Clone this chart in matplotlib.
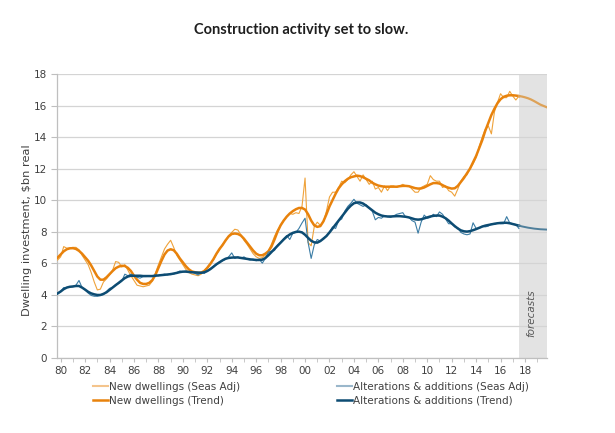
import numpy as np
import matplotlib
matplotlib.use("Agg")
import matplotlib.pyplot as plt
from matplotlib.lines import Line2D
from matplotlib.ticker import MultipleLocator, FixedLocator, FuncFormatter

# ---------------- data (quarterly, first quarter = 1979.75) ----------------
start_year = 1979.75
forecast_start = 2017.5

new_dw_sa = [
    6.2,
    6.4, 7.05, 6.95, 6.95,   7.0, 7.0, 6.85, 6.5,    6.2, 5.9, 5.4, 4.8,
    4.3, 4.35, 4.8, 5.0,     5.25, 5.55, 6.1, 6.05,  5.75, 5.9, 5.55, 5.2,
    4.9, 4.6, 4.55, 4.5,     4.55, 4.6, 4.85, 5.35,  5.9, 6.4, 6.9, 7.2,
    7.45, 7.0, 6.5, 6.2,     5.9, 5.6, 5.4, 5.3,     5.25, 5.2, 5.3, 5.5,
    5.75, 6.0, 6.2, 6.55,    6.85, 7.2, 7.4, 7.75,   7.95, 8.15, 8.1, 7.8,
    7.45, 7.2, 6.9, 6.6,     6.4, 6.3, 6.35, 6.5,    6.8, 7.2, 7.7, 8.1,
    8.4, 8.7, 8.95, 9.15,    9.1, 9.2, 9.15, 9.6,    11.4, 7.3, 7.1, 8.3,
    8.6, 8.4, 8.6, 9.3,      10.2, 10.5, 10.5, 10.8, 11.2, 11.1, 11.3, 11.6,
    11.8, 11.5, 11.2, 11.6,  11.3, 11.0, 11.2, 10.7, 10.8, 10.5, 10.9, 10.6,
    10.9, 10.9, 10.8, 10.9,  11.0, 10.9, 10.9, 10.7, 10.5, 10.5, 10.8, 10.9,
    11.0, 11.55, 11.3, 11.2, 11.2, 10.8, 10.9, 10.6, 10.5, 10.25, 10.7, 11.2,
    11.5, 11.6, 12.0, 12.3,  12.7, 13.4, 14.0, 14.5, 14.7, 14.2, 15.6, 16.2,
    16.75, 16.5, 16.5, 16.9, 16.6, 16.35, 16.6,
]

new_dw_trend = [
    6.35,
    6.55, 6.75, 6.88, 6.94,  6.95, 6.9, 6.78, 6.6,   6.38, 6.15, 5.85, 5.5,
    5.15, 4.95, 4.95, 5.1,   5.3, 5.5, 5.68, 5.78,   5.83, 5.82, 5.7, 5.5,
    5.2, 4.95, 4.75, 4.68,   4.68, 4.75, 4.92, 5.25, 5.7, 6.15, 6.55, 6.8,
    6.88, 6.82, 6.6, 6.3,    6.05, 5.8, 5.6, 5.47,   5.42, 5.38, 5.4, 5.5,
    5.7, 5.95, 6.25, 6.6,    6.9, 7.15, 7.45, 7.7,   7.85, 7.88, 7.85, 7.75,
    7.55, 7.3, 7.05, 6.8,    6.6, 6.5, 6.5, 6.6,     6.75, 7.05, 7.5, 8.0,
    8.4, 8.7, 8.95, 9.15,    9.3, 9.42, 9.5, 9.5,    9.4, 9.1, 8.7, 8.4,
    8.3, 8.35, 8.65, 9.1,    9.6, 10.0, 10.4, 10.75, 11.0, 11.2, 11.35, 11.45,
    11.5, 11.55, 11.52, 11.45, 11.35, 11.25, 11.1, 11.0, 10.92, 10.88, 10.85, 10.85,
    10.85, 10.85, 10.85, 10.88, 10.9, 10.9, 10.88, 10.82, 10.76, 10.73, 10.74, 10.8,
    10.9, 11.0, 11.08, 11.08, 11.05, 10.95, 10.85, 10.78, 10.73, 10.75, 10.9, 11.15,
    11.4, 11.7, 12.0, 12.4,  12.8, 13.3, 13.8, 14.4,  14.9, 15.4, 15.8, 16.15,
    16.4, 16.55, 16.62, 16.65, 16.65, 16.63, 16.6,
]
new_dw_forecast = [16.6, 16.57, 16.52, 16.46, 16.38, 16.28, 16.17, 16.06, 15.98, 15.9]

alt_sa = [
    4.05,
    4.2, 4.45, 4.45, 4.5,    4.5, 4.6, 4.9, 4.45,    4.3, 4.1, 3.95, 3.9,
    3.9, 3.95, 4.0, 4.2,     4.4, 4.45, 4.65, 4.7,   4.85, 5.3, 5.2, 5.3,
    5.2, 5.1, 5.05, 5.15,    5.15, 5.2, 5.2, 5.25,   5.2, 5.25, 5.3, 5.25,
    5.35, 5.3, 5.4, 5.5,     5.45, 5.5, 5.4, 5.45,   5.35, 5.25, 5.4, 5.35,
    5.5, 5.65, 5.8, 5.9,     6.1, 6.15, 6.25, 6.4,   6.65, 6.3, 6.4, 6.3,
    6.4, 6.25, 6.2, 6.25,    6.15, 6.25, 6.0, 6.3,   6.7, 6.75, 6.8, 7.15,
    7.3, 7.55, 7.75, 7.5,    7.9, 7.95, 8.2, 8.55,   8.85, 7.3, 6.3, 7.15,
    7.5, 7.4, 7.6, 7.7,      7.95, 8.3, 8.2, 8.7,    8.8, 9.3, 9.6, 9.8,
    10.05, 9.8, 9.7, 9.6,    9.7, 9.5, 9.3, 8.75,    8.9, 8.85, 9.0, 8.95,
    8.9, 9.0, 9.1, 9.15,     9.2, 8.9, 8.9, 8.7,     8.6, 7.9, 8.6, 9.05,
    8.85, 8.9, 9.1, 8.95,    9.25, 9.1, 8.8, 8.5,    8.5, 8.3, 8.25, 7.95,
    7.85, 7.8, 7.85, 8.56,   8.2, 8.2, 8.35, 8.3,    8.35, 8.5, 8.45, 8.55,
    8.5, 8.5, 8.95, 8.55,    8.5, 8.45, 8.2,
]

alt_trend = [
    4.08,
    4.2, 4.35, 4.45, 4.5,    4.52, 4.55, 4.55, 4.45, 4.32, 4.18, 4.08, 4.02,
    3.98, 3.98, 4.05, 4.15,  4.3, 4.45, 4.6, 4.75,   4.9, 5.05, 5.15, 5.2,
    5.2, 5.2, 5.2, 5.18,     5.18, 5.18, 5.18, 5.2,  5.22, 5.24, 5.26, 5.28,
    5.3, 5.34, 5.38, 5.43,   5.46, 5.46, 5.44, 5.42, 5.41, 5.4, 5.39, 5.42,
    5.5, 5.62, 5.77, 5.93,   6.05, 6.18, 6.28, 6.33, 6.35, 6.36, 6.36, 6.33,
    6.3, 6.27, 6.24, 6.22,   6.2, 6.2, 6.22, 6.32,   6.5, 6.7, 6.9, 7.1,
    7.3, 7.5, 7.68, 7.82,    7.92, 7.98, 8.0, 7.95,  7.8, 7.6, 7.42, 7.32,
    7.3, 7.4, 7.55, 7.72,    7.95, 8.2, 8.45, 8.7,   8.95, 9.2, 9.45, 9.65,
    9.8, 9.85, 9.85, 9.78,   9.65, 9.5, 9.35, 9.2,   9.1, 9.02, 8.98, 8.96,
    8.96, 8.97, 8.98, 8.98,  8.96, 8.94, 8.9, 8.84,  8.78, 8.76, 8.78, 8.84,
    8.9, 8.96, 9.0, 9.02,    9.02, 8.95, 8.85, 8.7,  8.52, 8.35, 8.2, 8.08,
    8.02, 8.0, 8.03, 8.09,   8.16, 8.24, 8.32, 8.38, 8.42, 8.46, 8.5, 8.53,
    8.55, 8.56, 8.56, 8.53,  8.48, 8.43, 8.38,
]
alt_forecast = [8.38, 8.33, 8.29, 8.25, 8.22, 8.19, 8.17, 8.15, 8.14, 8.13]

year_ticks = list(range(1980, 2019, 2))
title = "Construction activity set to slow."
ylabel = "Dwelling investment, $bn real"
legend_labels = ["New dwellings (Seas Adj)", "New dwellings (Trend)",
                 "Alterations & additions (Seas Adj)", "Alterations & additions (Trend)"]

# ---------------- styling ----------------
C_ND_T = "#E8820C"
C_ND_SA = "#EFA23A"
C_ND_SA_LEG = "#F4C48C"
C_AA_T = "#0D4C73"
C_AA_SA = "#3A7CA5"
C_AA_SA_LEG = "#9AB7CB"
GRID = "#D4D4D4"
AXC = "#BFBFBF"
TXT = "#404040"

plt.rcParams["font.family"] = ["DejaVu Sans"]

W, H = 615, 433
fig = plt.figure(figsize=(W / 100, H / 100), dpi=100)
ax = fig.add_axes([57 / W, 1 - 357.7 / H, 490 / W, 283.7 / H])

x_act = start_year + 0.25 * np.arange(len(new_dw_trend))
x_fc = forecast_start + 0.25 * np.arange(len(new_dw_forecast))

ax.axvspan(forecast_start, 2019.8, color="#E3E3E3", zorder=0, lw=0)

ax.plot(x_act, new_dw_sa, color=C_ND_SA, lw=0.8, zorder=3)
ax.plot(x_act, new_dw_trend, color=C_ND_T, lw=1.8, zorder=4)
ax.plot(x_fc, new_dw_forecast, color="#DDA258", lw=1.6, zorder=4)
ax.plot(x_act, alt_sa, color=C_AA_SA, lw=0.8, zorder=5)
ax.plot(x_act, alt_trend, color=C_AA_T, lw=1.8, zorder=6)
ax.plot(x_fc, alt_forecast, color="#4F7F9B", lw=1.4, zorder=6)

ax.set_xlim(1979.7, 2019.8)
ax.set_ylim(0, 18)
ax.yaxis.set_major_locator(MultipleLocator(2))
ax.xaxis.set_major_locator(FixedLocator(year_ticks))
ax.xaxis.set_minor_locator(FixedLocator(list(range(1980, 2020))))
ax.xaxis.set_major_formatter(FuncFormatter(lambda v, p: f"{int(round(v)) % 100:02d}"))
ax.grid(axis="y", color=GRID, lw=0.9, zorder=1)
ax.set_axisbelow(True)
for s in ["top", "right"]:
    ax.spines[s].set_visible(False)
for s in ["left", "bottom"]:
    ax.spines[s].set_color(AXC)
    ax.spines[s].set_linewidth(0.9)
ax.tick_params(axis="x", which="both", direction="out", length=3, color=AXC,
               labelsize=7.5, labelcolor=TXT, pad=3)
ax.tick_params(axis="y", direction="out", length=4, color=AXC,
               labelsize=7.5, labelcolor=TXT, pad=3)

ax.text(2018.55, 2.85, "forecasts", rotation=90, style="italic", color="#595959",
        fontsize=7.5, ha="center", va="center", zorder=7)

fig.text(300.7 / W, 1 - 30 / H, title, fontfamily="Lato", fontweight="bold",
         fontsize=10.5, color="#1F1F1F", ha="center", va="center")
fig.text(26.7 / W, 1 - 230 / H, ylabel, rotation=90, fontsize=8.2, color=TXT,
         ha="center", va="center")

h1 = [Line2D([], [], color=C_ND_SA_LEG, lw=1.5), Line2D([], [], color=C_ND_T, lw=1.8)]
h2 = [Line2D([], [], color=C_AA_SA_LEG, lw=1.5), Line2D([], [], color=C_AA_T, lw=1.8)]
common = dict(loc="upper left", bbox_transform=fig.transFigure, frameon=False,
              borderaxespad=0, borderpad=0, handlelength=1.45, handletextpad=0.1,
              labelspacing=0.42, prop={"size": 7.5}, labelcolor=TXT)
leg1 = fig.legend(h1, legend_labels[:2], bbox_to_anchor=(93.3 / W, 1 - 381.5 / H), **common)
leg2 = fig.legend(h2, legend_labels[2:], bbox_to_anchor=(336.7 / W, 1 - 381.5 / H), **common)

fig.savefig("out.png", dpi=100)
